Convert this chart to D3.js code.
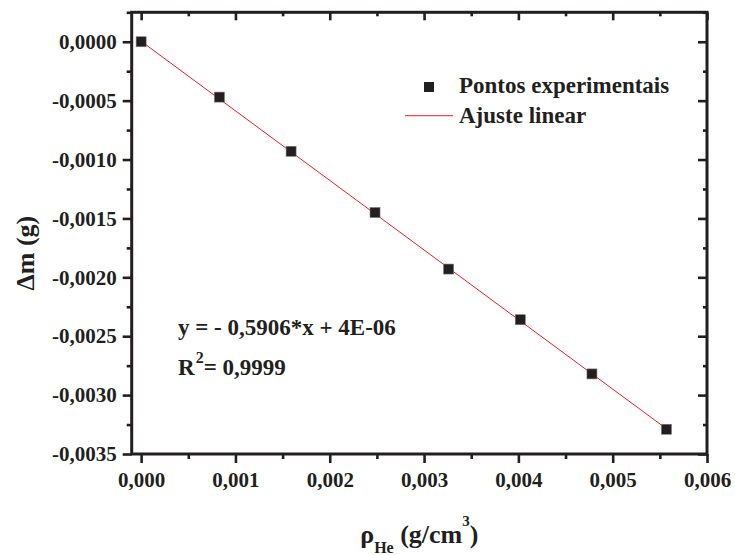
<!DOCTYPE html>
<html lang="pt">
<head>
<meta charset="utf-8" />
<title>Delta m vs rho He</title>
<script src="https://d3js.org/d3.v7.min.js"></script>
<style>
  html, body { margin: 0; padding: 0; background: #fff; }
  svg { display: block; font-family: "Liberation Serif", "Times New Roman", serif; font-weight: bold; }
</style>
</head>
<body>
<div id="chart"></div>
<script>
// measured points (rho He in g/cm3, delta m in g)
const rhoHe = [0, 0.00083, 0.00159, 0.00248, 0.00326, 0.00402, 0.00478, 0.00557];
const deltaM = [0, -0.00047, -0.00093, -0.00145, -0.00193, -0.00236, -0.00282, -0.00329];

// linear fit reported on the chart
const fitSlope = -0.5906;
const fitIntercept = 4e-6;
const fitRange = [0, 0.00557];

const xTicks = [0, 0.001, 0.002, 0.003, 0.004, 0.005, 0.006];
const xMinor = [0.0005, 0.0015, 0.0025, 0.0035, 0.0045, 0.0055];
const yTicks = [0, -0.0005, -0.001, -0.0015, -0.002, -0.0025, -0.003, -0.0035];
const yMinor = [0.00025, -0.00025, -0.00075, -0.00125, -0.00175, -0.00225, -0.00275, -0.00325];

const legendLabels = ["Pontos experimentais", "Ajuste linear"];

const width = 735, height = 555;
const pL = 131.7, pR = 707, pT = 12.3, pB = 454;
const ink = "#231f20";

const locale = d3.formatLocale({decimal: ",", thousands: ".", grouping: [3], currency: ["", ""], minus: "-"});
const fmtX = locale.format(".3f");
const fmtY = locale.format(".4f");

const x = d3.scaleLinear().domain([-0.0001, 0.006]).range([pL, pR]);
const y = d3.scaleLinear().domain([-0.0035, 0.00025]).range([pB, pT]);

const svg = d3.select("#chart").append("svg")
    .attr("width", width)
    .attr("height", height);

// axes: bottom/left ticks outward, top/right mirrored inward
function drawAxis(axis, transform, size, values, labels) {
  const g = svg.append("g")
      .attr("transform", transform)
      .call(axis.tickValues(values).tickSize(size).tickSizeOuter(0))
      .attr("font-family", null)
      .attr("font-size", 21);
  g.select(".domain").remove();
  g.selectAll(".tick line").attr("stroke", ink).attr("stroke-width", 2.6);
  g.selectAll(".tick text").attr("fill", ink);
  if (!labels) g.selectAll(".tick text").remove();
  return g;
}

drawAxis(d3.axisBottom(x).tickFormat(fmtX).tickPadding(9), `translate(0,${pB})`, 9, xTicks, true);
drawAxis(d3.axisBottom(x), `translate(0,${pB})`, 5, xMinor, false);
drawAxis(d3.axisTop(x), `translate(0,${pT})`, -8, xTicks, false);
drawAxis(d3.axisTop(x), `translate(0,${pT})`, -4, xMinor, false);

drawAxis(d3.axisLeft(y).tickFormat(fmtY).tickPadding(6), `translate(${pL},0)`, 9, yTicks, true);
drawAxis(d3.axisLeft(y), `translate(${pL},0)`, 5, yMinor, false);
drawAxis(d3.axisRight(y), `translate(${pR},0)`, -9, yTicks, false);
drawAxis(d3.axisRight(y), `translate(${pR},0)`, -4, yMinor, false);

// frame
svg.append("rect")
    .attr("x", pL).attr("y", pT)
    .attr("width", pR - pL).attr("height", pB - pT)
    .attr("fill", "none").attr("stroke", ink).attr("stroke-width", 3);

// fit line
const line = d3.line().x(d => x(d)).y(d => y(fitSlope * d + fitIntercept));
svg.append("path")
    .datum(fitRange)
    .attr("d", line)
    .attr("fill", "none")
    .attr("stroke", "#ee1c24")
    .attr("stroke-width", 1);

// points
const ms = 10;
svg.append("g")
  .selectAll("rect")
  .data(rhoHe.map((v, i) => [v, deltaM[i]]))
  .join("rect")
    .attr("x", d => x(d[0]) - ms / 2)
    .attr("y", d => y(d[1]) - ms / 2)
    .attr("width", ms).attr("height", ms)
    .attr("fill", ink)
    .attr("stroke", "#777").attr("stroke-width", 0.6);

// legend
const lg = svg.append("g").attr("font-size", 23).attr("fill", ink);
lg.append("rect").attr("x", 424).attr("y", 82).attr("width", 10).attr("height", 10).attr("fill", ink);
lg.append("text").attr("x", 459).attr("y", 93).text(legendLabels[0]);
lg.append("line").attr("x1", 405).attr("x2", 453).attr("y1", 115.7).attr("y2", 115.7)
    .attr("stroke", "#ee1c24").attr("stroke-width", 1);
lg.append("text").attr("x", 459).attr("y", 123).text(legendLabels[1]);

// equation
const eq = svg.append("g").attr("font-size", 23).attr("fill", ink);
eq.append("text").attr("x", 178).attr("y", 335).text("y = - 0,5906*x + 4E-06");
const r2 = eq.append("text").attr("x", 178).attr("y", 375);
r2.append("tspan").text("R");
r2.append("tspan").attr("font-size", 16).attr("dx", 1).attr("dy", -12).text("2");
r2.append("tspan").attr("dy", 12).text("= 0,9999");

// axis titles
const xt = svg.append("text")
    .attr("x", (pL + pR) / 2).attr("y", 543)
    .attr("text-anchor", "middle").attr("font-size", 26).attr("fill", ink);
xt.append("tspan").text("ρ");
xt.append("tspan").attr("font-size", 16).attr("dy", 10).text("He");
xt.append("tspan").attr("dy", -10).text(" (g/cm");
xt.append("tspan").attr("font-size", 15).attr("dy", -17).text("3");
xt.append("tspan").attr("dy", 17).text(")");

svg.append("text")
    .attr("transform", `translate(34,${(pT + pB) / 2 + 20}) rotate(-90)`)
    .attr("text-anchor", "middle").attr("font-size", 26).attr("fill", ink)
    .text("Δm (g)");
</script>
</body>
</html>
